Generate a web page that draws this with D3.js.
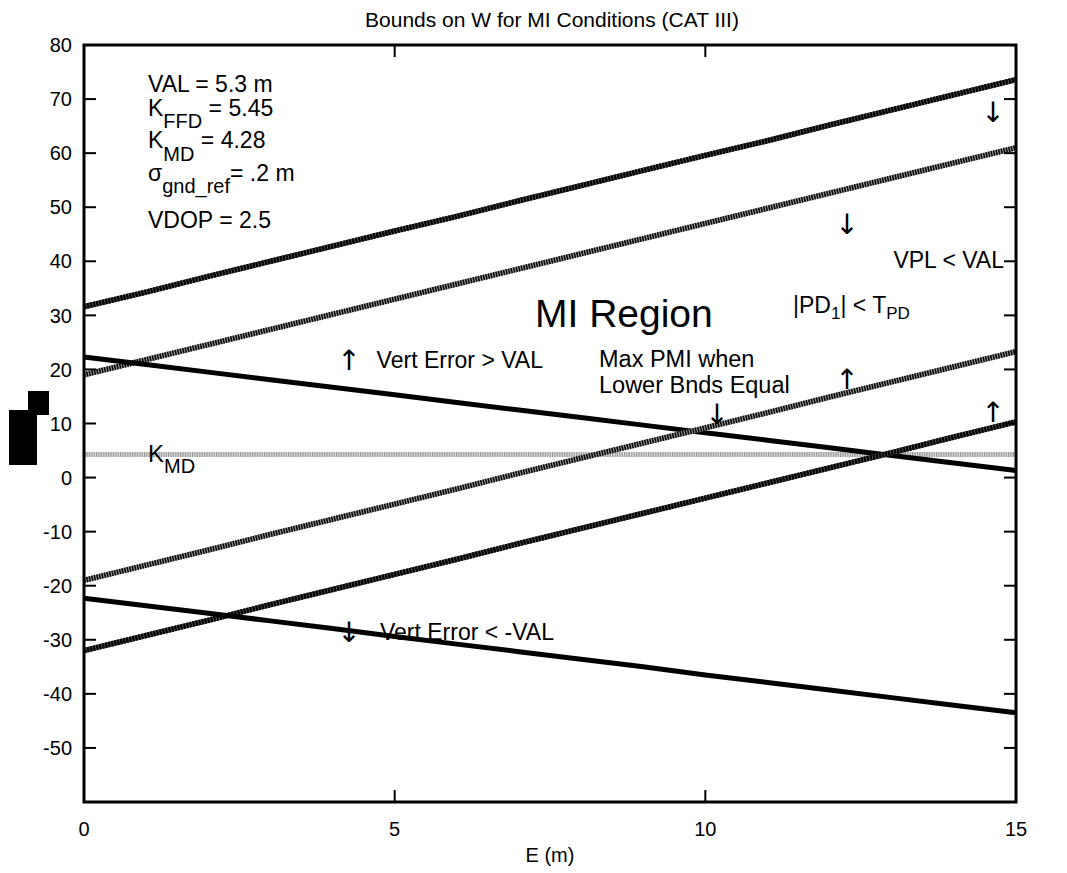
<!DOCTYPE html>
<html>
<head>
<meta charset="utf-8">
<script src="https://cdn.jsdelivr.net/npm/d3@7"></script>
<style>
  body { margin: 0; background: #fff; }
  svg text { font-family: "Liberation Sans", Arial, sans-serif; fill: #000; }
</style>
</head>
<body>
<div id="chart"></div>
<script>
/** data **/
var eValues = [0, 1, 2, 3, 4, 5, 6, 7, 8, 9, 10, 11, 12, 13, 14, 15];
var vplUpper = [31.6, 34.3, 37.2, 40.0, 42.8, 45.6, 48.3, 51.2, 54.0, 56.8, 59.6, 62.3, 65.2, 68.0, 70.8, 73.6];
var pdUpper = [19.0, 21.8, 24.6, 27.4, 30.2, 33.0, 35.8, 38.6, 41.4, 44.2, 47.0, 49.8, 52.6, 55.4, 58.2, 61.0];
var errUpper = [22.3, 20.9, 19.5, 18.1, 16.7, 15.3, 13.9, 12.5, 11.1, 9.7, 8.3, 6.9, 5.5, 4.1, 2.7, 1.3];
var pdLower = [-19.0, -16.2, -13.4, -10.5, -7.7, -4.9, -2.1, 0.8, 3.6, 6.4, 9.2, 12.0, 14.9, 17.7, 20.5, 23.3];
var vplLower = [-32.0, -29.2, -26.4, -23.5, -20.7, -17.9, -15.1, -12.2, -9.4, -6.6, -3.8, -1.0, 1.8, 4.6, 7.5, 10.3];
var errLower = [-22.3, -23.7, -25.1, -26.5, -27.9, -29.4, -30.8, -32.2, -33.6, -35.0, -36.5, -37.9, -39.3, -40.7, -42.1, -43.5];
var kMD = 4.28;
var xTicks = [0, 5, 10, 15];
var yTicks = [80, 70, 60, 50, 40, 30, 20, 10, 0, -10, -20, -30, -40, -50, -60];
var yLabels = [80, 70, 60, 50, 40, 30, 20, 10, 0, -10, -20, -30, -40, -50];

/** plot box **/
var svgWidth = 1067,
    svgHeight = 873,
    plotLeft = 84,
    plotRight = 1016,
    plotTop = 45,
    plotBottom = 802,
    tickLen = 12;

var svg = d3.select("#chart").append("svg")
    .attr("width", svgWidth)
    .attr("height", svgHeight);

var x = d3.scaleLinear().domain([0, 15]).range([plotLeft, plotRight]);
var y = d3.scaleLinear().domain([-60, 80]).range([plotBottom, plotTop]);

var line = d3.line()
    .x(function(d) { return x(d.e); })
    .y(function(d) { return y(d.v); });

function series(vals) {
    return eValues.map(function(e, i) { return {e: e, v: vals[i]}; });
}

/** hatched line = light base + dark dashes on top **/
function hatched(vals, base, dark, dash) {
    var d = line(series(vals));
    svg.append("path").attr("d", d)
        .attr("fill", "none").attr("stroke", base).attr("stroke-width", 5.5);
    svg.append("path").attr("d", d)
        .attr("fill", "none").attr("stroke", dark).attr("stroke-width", 5.5)
        .attr("stroke-dasharray", dash);
}

function solid(vals) {
    svg.append("path").attr("d", line(series(vals)))
        .attr("fill", "none").attr("stroke", "#000").attr("stroke-width", 5);
}

// K_MD horizontal reference
var kLine = d3.line()
    .x(function(d) { return x(d); })
    .y(function() { return y(kMD); });
svg.append("path").attr("d", kLine([0, 15]))
    .attr("fill", "none").attr("stroke", "#ddd").attr("stroke-width", 5);
svg.append("path").attr("d", kLine([0, 15]))
    .attr("fill", "none").attr("stroke", "#999").attr("stroke-width", 5)
    .attr("stroke-dasharray", "1.2,1.2");

hatched(vplUpper, "#666", "#000", "2.4,0.7");
hatched(pdUpper, "#999", "#000", "1.5,1.1");
solid(errUpper);
hatched(pdLower, "#999", "#000", "1.5,1.1");
hatched(vplLower, "#666", "#000", "2.4,0.7");
solid(errLower);

/** frame and ticks, all pointing inward **/
svg.append("rect")
    .attr("x", plotLeft).attr("y", plotTop)
    .attr("width", plotRight - plotLeft).attr("height", plotBottom - plotTop)
    .attr("fill", "none").attr("stroke", "#000").attr("stroke-width", 3);

var axisG = svg.append("g").attr("stroke", "#000").attr("stroke-width", 2);
yTicks.forEach(function(t) {
    axisG.append("line").attr("x1", plotLeft).attr("x2", plotLeft + tickLen).attr("y1", y(t)).attr("y2", y(t));
    axisG.append("line").attr("x1", plotRight).attr("x2", plotRight - tickLen).attr("y1", y(t)).attr("y2", y(t));
});
xTicks.forEach(function(t) {
    axisG.append("line").attr("x1", x(t)).attr("x2", x(t)).attr("y1", plotBottom).attr("y2", plotBottom - tickLen);
    axisG.append("line").attr("x1", x(t)).attr("x2", x(t)).attr("y1", plotTop).attr("y2", plotTop + tickLen);
});

svg.selectAll(".ylab").data(yLabels).enter().append("text")
    .attr("class", "ylab")
    .attr("x", plotLeft - 12)
    .attr("y", function(d) { return y(d); })
    .attr("dy", "0.36em")
    .attr("text-anchor", "end")
    .style("font-size", "20px")
    .text(function(d) { return d; });

svg.selectAll(".xlab").data(xTicks).enter().append("text")
    .attr("class", "xlab")
    .attr("x", function(d) { return x(d); })
    .attr("y", plotBottom + 34)
    .attr("text-anchor", "middle")
    .style("font-size", "20px")
    .text(function(d) { return d; });

svg.append("text").attr("x", x(7.5)).attr("y", 862)
    .attr("text-anchor", "middle").style("font-size", "20px").text("E (m)");

svg.append("text").attr("x", 552).attr("y", 27)
    .attr("text-anchor", "middle").style("font-size", "21px")
    .text("Bounds on W for MI Conditions (CAT III)");

// the y label in the original is a black smudge
svg.append("rect").attr("x", 9).attr("y", 410).attr("width", 28).attr("height", 55).attr("fill", "#000");
svg.append("rect").attr("x", 28).attr("y", 391).attr("width", 21).attr("height", 24).attr("fill", "#000");

/** annotations: parts are [text, "sub"|"back"] **/
function label(px, py, parts, size, subSize, shift) {
    var t = svg.append("text").attr("x", px).attr("y", py).style("font-size", size + "px");
    parts.forEach(function(p) {
        var s = t.append("tspan").text(p[0]);
        if (p[1] === "sub") s.attr("dy", shift).style("font-size", subSize + "px");
        if (p[1] === "back") s.attr("dy", -shift);
    });
    return t;
}

function arrow(cx, cy, ch) {
    svg.append("text").attr("x", cx).attr("y", cy)
        .attr("text-anchor", "middle")
        .attr("dominant-baseline", "central")
        .style("font-family", "'DejaVu Sans'")
        .style("font-size", "28px")
        .style("fill", "#000")
        .text(ch);
}

label(148, 92, [["VAL = 5.3 m"]], 23);
label(148, 116, [["K"], ["FFD", "sub"], [" = 5.45", "back"]], 23, 20, 12);
label(148, 148, [["K"], ["MD", "sub"], [" = 4.28", "back"]], 23, 20, 13);
label(148, 181, [["σ"], ["gnd_ref", "sub"], ["= .2 m", "back"]], 23, 20, 12);
label(148, 228, [["VDOP = 2.5"]], 23);

label(535, 327, [["MI Region"]], 39);
label(793, 313, [["|PD"], ["1", "sub"], ["| < T", "back"], ["PD", "sub"]], 23, 17, 6);
label(1004, 268, [["VPL < VAL"]], 23).attr("text-anchor", "end");
label(543, 368, [["Vert Error > VAL"]], 23).attr("text-anchor", "end");
label(554, 640, [["Vert Error < -VAL"]], 23).attr("text-anchor", "end");
label(599, 367, [["Max PMI when"]], 23.5);
label(599, 393, [["Lower Bnds Equal"]], 23.5);
label(148, 462, [["K"], ["MD", "sub"]], 24, 20, 11);

arrow(349, 360, "↑");
arrow(349, 632, "↓");
arrow(717, 414, "↓");
arrow(847, 379, "↑");
arrow(993, 412, "↑");
arrow(993, 112, "↓");
arrow(847, 224, "↓");
</script>
</body>
</html>
